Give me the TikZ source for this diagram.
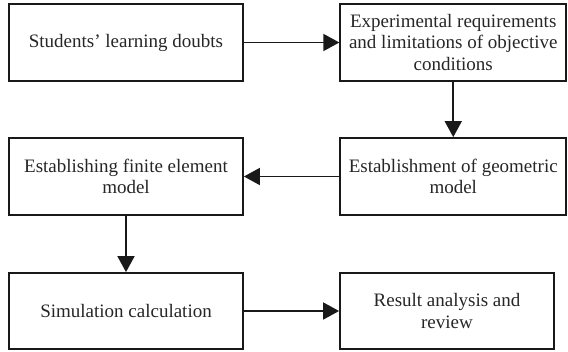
\documentclass[tikz,border=0pt]{standalone}
\usepackage{fontspec}
\setmainfont{Liberation Serif}
\usetikzlibrary{arrows.meta}
\begin{document}
\begin{tikzpicture}[x=1pt,y=-1pt,
  box/.style={draw=black!90, line width=1.8pt, align=center, inner sep=0pt,
    font=\fontsize{19}{21.8}\selectfont, text=black!85},
  arr/.style={line width=1.8pt, draw=black!90, -{Triangle[length=16pt,width=17pt]}}]
\useasboundingbox (0,0) rectangle (568,352);
\node[box, minimum width=234pt, minimum height=77pt] (a) at (126,42.5) {Students’ learning doubts};
\node[box, minimum width=226pt, minimum height=77pt] (b) at (453.25,42.5) {Experimental requirements\\and limitations of objective\\conditions};
\node[box, minimum width=234pt, minimum height=77pt] (c) at (126,176.5) {Establishing finite element\\model};
\node[box, minimum width=226pt, minimum height=77pt] (d) at (453.25,176.5) {Establishment of geometric\\model};
\node[box, minimum width=234pt, minimum height=76pt] (e) at (126,311) {Simulation calculation};
\node[box, minimum width=214pt, minimum height=76pt] (f) at (447,311) {Result analysis and\\review};
\draw[arr] (a.east) -- (b.west);
\draw[arr] (b.south) -- (d.north);
\draw[arr] (d.west) -- (c.east);
\draw[arr] (c.south) -- (e.north);
\draw[arr] (e.east) -- (f.west);
\end{tikzpicture}
\end{document}
